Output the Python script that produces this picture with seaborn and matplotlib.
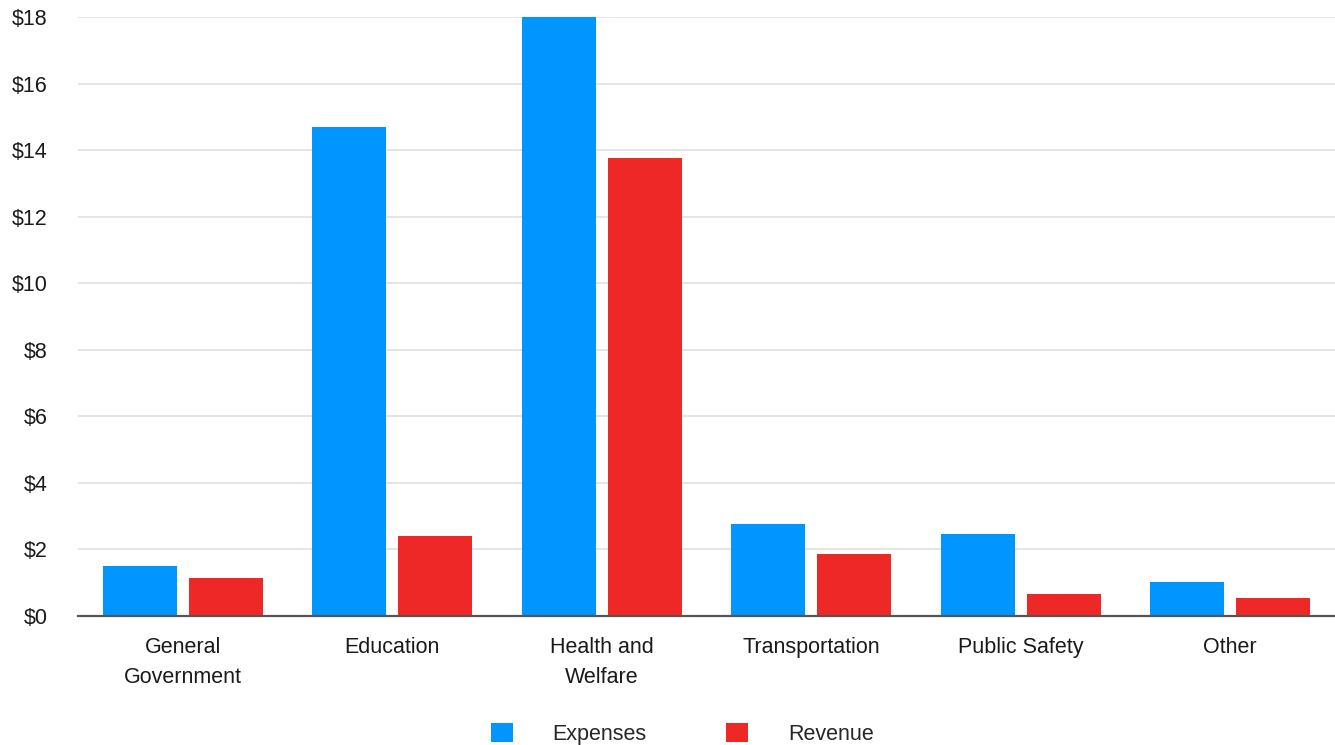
import pandas as pd
import matplotlib.pyplot as plt
import seaborn as sns
from matplotlib.patches import Patch
from matplotlib.ticker import FuncFormatter

# dados (bilhões de $)
categories = ["General\nGovernment", "Education", "Health and\nWelfare",
              "Transportation", "Public Safety", "Other"]
expenses = [1.50, 14.68, 18.0, 2.76, 2.46, 1.02]
revenue = [1.14, 2.40, 13.75, 1.86, 0.66, 0.54]
series = ["Expenses", "Revenue"]
colors = ["#0095FF", "#EE2826"]

df = pd.DataFrame({
    "category": categories * 2,
    "value": expenses + revenue,
    "series": [series[0]] * len(categories) + [series[1]] * len(categories),
})

sns.set_style("white")
plt.rcParams["font.family"] = ["Liberation Sans", "DejaVu Sans"]
plt.rcParams["font.size"] = 15.5

fig = plt.figure(figsize=(13.35, 7.45), dpi=100)
ax = fig.add_axes([78 / 1335, 1 - 616 / 745, 1257 / 1335, 599 / 745])

sns.barplot(data=df, x="category", y="value", hue="series", palette=colors,
            width=0.82, gap=0.14, saturation=1, linewidth=0,
            ax=ax, legend=False, zorder=3)

ax.set_xlim(-0.5, len(categories) - 0.5)
ax.set_ylim(0, 18)
ax.set_yticks(range(0, 19, 2))
ax.yaxis.set_major_formatter(FuncFormatter(lambda v, p: f"${v:.0f}"))
ax.grid(axis="y", color="#e3e3e3", linewidth=1.3, zorder=0)
ax.set_xlabel("")
ax.set_ylabel("")
for s in ["top", "right", "left"]:
    ax.spines[s].set_visible(False)
ax.spines["bottom"].set_color("#555555")
ax.spines["bottom"].set_linewidth(1.6)
ax.spines["bottom"].set_zorder(4)
ax.tick_params(axis="y", length=0, pad=22, labelcolor="#1a1a1a")
ax.tick_params(axis="x", length=0, pad=15, labelcolor="#1a1a1a")
for lbl in ax.get_yticklabels():
    lbl.set_horizontalalignment("right")
for lbl in ax.get_xticklabels():
    lbl.set_linespacing(1.55)

handles = [Patch(facecolor=c, edgecolor="none", label=s) for s, c in zip(series, colors)]
fig.legend(handles=handles, loc="lower center", ncol=2, frameon=False,
           bbox_to_anchor=(0.511, -0.026), handlelength=1.02, handleheight=1.02,
           handletextpad=1.86, columnspacing=3.67)

plt.savefig("out.png", dpi=100)
